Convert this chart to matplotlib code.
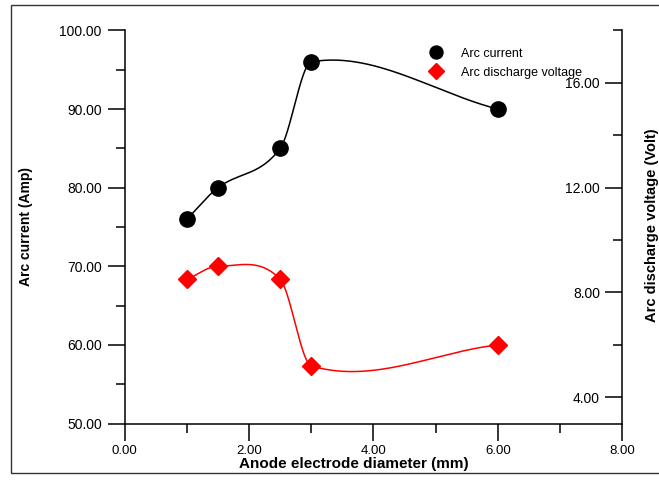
import numpy as np
import matplotlib
matplotlib.use("Agg")
import matplotlib.pyplot as plt
from matplotlib.patches import Rectangle
from matplotlib.ticker import FormatStrFormatter, MultipleLocator

plt.rcParams['font.family'] = ['Liberation Sans', 'DejaVu Sans']

# data
diameter = [1.0, 1.5, 2.5, 3.0, 6.0]
arc_current = [76.0, 80.0, 85.0, 96.0, 90.0]
arc_voltage = [8.5, 9.0, 8.5, 5.2, 6.0]


def smooth(x, y, n=60):
    # cubic hermite through the points (tangents from neighbours), like Origin's spline connect
    x = np.asarray(x, float)
    y = np.asarray(y, float)
    m = np.empty_like(y)
    m[0] = (y[1] - y[0]) / (x[1] - x[0])
    m[-1] = (y[-1] - y[-2]) / (x[-1] - x[-2])
    m[1:-1] = (y[2:] - y[:-2]) / (x[2:] - x[:-2])
    xs, ys = [], []
    for i in range(len(x) - 1):
        h = x[i + 1] - x[i]
        t = np.linspace(0, 1, n)
        h00 = 2 * t**3 - 3 * t**2 + 1
        h10 = t**3 - 2 * t**2 + t
        h01 = -2 * t**3 + 3 * t**2
        h11 = t**3 - t**2
        xs.append(x[i] + h * t)
        ys.append(h00 * y[i] + h10 * h * m[i] + h01 * y[i + 1] + h11 * h * m[i + 1])
    return np.concatenate(xs), np.concatenate(ys)


fig = plt.figure(figsize=(6.59, 4.80), dpi=100)
ax = fig.add_axes([0.1892, 0.1177, 0.7551, 0.8188])
ax2 = ax.twinx()

lw = 1.1
for a in (ax, ax2):
    a.spines['top'].set_visible(False)
    for s in a.spines.values():
        s.set_linewidth(lw)
ax.spines['right'].set_visible(False)
ax2.spines['left'].set_visible(False)
ax2.spines['bottom'].set_visible(False)

# black series on left axis
sx, sy = smooth(diameter, arc_current)
ax.plot(sx, sy, color='black', lw=1.1)
ax.plot(diameter, arc_current, 'o', color='black', ms=11, label='Arc current')

# red series on right axis
rx, ry = smooth(diameter, arc_voltage)
ax2.plot(rx, ry, color='red', lw=1.1)
ax2.plot(diameter, arc_voltage, 'D', color='red', ms=9, label='Arc discharge voltage')

ax.set_xlim(0, 8)
ax.set_ylim(50, 100)
ax2.set_ylim(3, 18)

ax.xaxis.set_major_locator(MultipleLocator(2))
ax.xaxis.set_minor_locator(MultipleLocator(1))
ax.yaxis.set_major_locator(MultipleLocator(10))
ax.yaxis.set_minor_locator(MultipleLocator(5))
ax.xaxis.set_major_formatter(FormatStrFormatter('%.2f'))
ax.yaxis.set_major_formatter(FormatStrFormatter('%.2f'))
ax2.set_yticks([4, 8, 12, 16])
ax2.yaxis.set_minor_locator(MultipleLocator(2))
ax2.yaxis.set_major_formatter(FormatStrFormatter('%.2f'))

ax.tick_params(which='major', direction='out', length=12.5, width=lw, labelsize=10, pad=4)
ax.tick_params(which='minor', direction='out', length=6.5, width=lw)
ax.tick_params(axis='x', which='major', labelsize=9.5, pad=3)
ax2.tick_params(which='major', direction='in', length=12.5, width=lw, labelsize=10, pad=-16)
ax2.tick_params(which='minor', direction='in', length=6.5, width=lw)
for t in ax2.yaxis.get_major_ticks():
    t.label2.set_horizontalalignment('right')

ax.set_xlabel('Anode electrode diameter (mm)', fontsize=11, fontweight='bold')
ax.xaxis.set_label_coords(0.461, -0.086)
ax.set_ylabel('Arc current (Amp)', fontsize=10, fontweight='bold')
ax.yaxis.set_label_coords(-0.184, 0.5)
ax2.set_ylabel('Arc discharge voltage (Volt)', fontsize=10.5, fontweight='bold')
ax2.yaxis.set_label_coords(1.045, 0.505)

h1, l1 = ax.get_legend_handles_labels()
h2, l2 = ax2.get_legend_handles_labels()
ax2.legend(h1 + h2, l1 + l2, loc='upper left', bbox_to_anchor=(0.59, 0.985),
           frameon=False, fontsize=9, handlelength=1.0, handletextpad=1.5,
           labelspacing=0.55, markerscale=0.85)

# border around the whole picture (right edge falls off the image)
fig.patches.append(Rectangle((11 / 659, 7 / 480), 2, 468 / 480, transform=fig.transFigure,
                             fill=False, lw=1.0, ec='#333333'))

fig.savefig('out.png', dpi=100)
